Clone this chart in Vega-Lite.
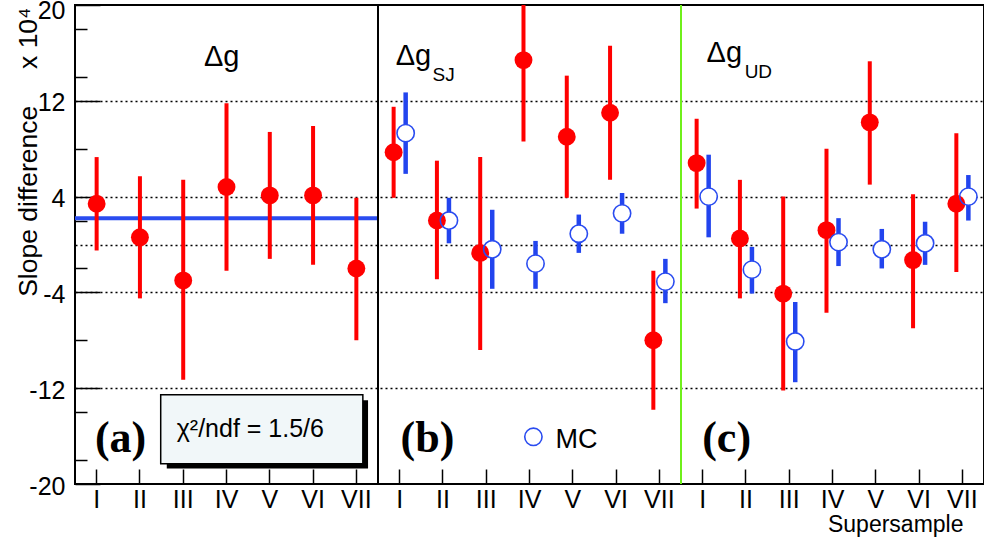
{
  "$schema": "https://vega.github.io/schema/vega-lite/v6.json",
  "width": 909,
  "height": 479,
  "autosize": {"type": "none"},
  "padding": {"left": 75, "top": 5, "right": 0, "bottom": 56},
  "background": "white",
  "config": {
    "view": {"stroke": "black", "strokeWidth": 2},
    "font": "Liberation Sans"
  },
  "datasets": {
    "points": [
      {"slot": 1, "panel": "a", "src": "Data", "val": 3.4, "lo": -0.5, "hi": 7.3},
      {"slot": 2, "panel": "a", "src": "Data", "val": 0.6, "lo": -4.5, "hi": 5.7},
      {"slot": 3, "panel": "a", "src": "Data", "val": -3.0, "lo": -11.3, "hi": 5.4},
      {"slot": 4, "panel": "a", "src": "Data", "val": 4.8, "lo": -2.2, "hi": 11.8},
      {"slot": 5, "panel": "a", "src": "Data", "val": 4.1, "lo": -1.2, "hi": 9.4},
      {"slot": 6, "panel": "a", "src": "Data", "val": 4.1, "lo": -1.7, "hi": 9.9},
      {"slot": 7, "panel": "a", "src": "Data", "val": -2.0, "lo": -8.0, "hi": 3.9},
      {"slot": 8, "panel": "b", "src": "Data", "val": 7.7, "lo": 3.9, "hi": 11.5},
      {"slot": 9, "panel": "b", "src": "Data", "val": 2.0, "lo": -2.9, "hi": 7.0},
      {"slot": 10, "panel": "b", "src": "Data", "val": -0.7, "lo": -8.8, "hi": 7.3},
      {"slot": 11, "panel": "b", "src": "Data", "val": 15.4, "lo": 8.6, "hi": 20},
      {"slot": 12, "panel": "b", "src": "Data", "val": 9.0, "lo": 3.9, "hi": 14.1},
      {"slot": 13, "panel": "b", "src": "Data", "val": 11.0, "lo": 5.4, "hi": 16.6},
      {"slot": 14, "panel": "b", "src": "Data", "val": -8.0, "lo": -13.8, "hi": -2.2},
      {"slot": 8, "panel": "b", "src": "MC", "val": 9.3, "lo": 5.9, "hi": 12.7},
      {"slot": 9, "panel": "b", "src": "MC", "val": 2.0, "lo": 0.1, "hi": 3.9},
      {"slot": 10, "panel": "b", "src": "MC", "val": -0.4, "lo": -3.7, "hi": 2.9},
      {"slot": 11, "panel": "b", "src": "MC", "val": -1.6, "lo": -3.7, "hi": 0.3},
      {"slot": 12, "panel": "b", "src": "MC", "val": 0.9, "lo": -0.7, "hi": 2.5},
      {"slot": 13, "panel": "b", "src": "MC", "val": 2.6, "lo": 0.9, "hi": 4.3},
      {"slot": 14, "panel": "b", "src": "MC", "val": -3.1, "lo": -4.9, "hi": -1.2},
      {"slot": 15, "panel": "c", "src": "Data", "val": 6.8, "lo": 3.0, "hi": 10.5},
      {"slot": 16, "panel": "c", "src": "Data", "val": 0.5, "lo": -4.5, "hi": 5.4},
      {"slot": 17, "panel": "c", "src": "Data", "val": -4.1, "lo": -12.2, "hi": 4.0},
      {"slot": 18, "panel": "c", "src": "Data", "val": 1.2, "lo": -5.7, "hi": 8.0},
      {"slot": 19, "panel": "c", "src": "Data", "val": 10.2, "lo": 5.0, "hi": 15.3},
      {"slot": 20, "panel": "c", "src": "Data", "val": -1.3, "lo": -7.0, "hi": 4.2},
      {"slot": 21, "panel": "c", "src": "Data", "val": 3.4, "lo": -2.3, "hi": 9.3},
      {"slot": 15, "panel": "c", "src": "MC", "val": 4.0, "lo": 0.6, "hi": 7.5},
      {"slot": 16, "panel": "c", "src": "MC", "val": -2.1, "lo": -4.1, "hi": -0.2},
      {"slot": 17, "panel": "c", "src": "MC", "val": -8.1, "lo": -11.5, "hi": -4.8},
      {"slot": 18, "panel": "c", "src": "MC", "val": 0.2, "lo": -1.8, "hi": 2.2},
      {"slot": 19, "panel": "c", "src": "MC", "val": -0.4, "lo": -2.0, "hi": 1.3},
      {"slot": 20, "panel": "c", "src": "MC", "val": 0.1, "lo": -1.7, "hi": 1.9},
      {"slot": 21, "panel": "c", "src": "MC", "val": 4.0, "lo": 2.0, "hi": 5.8}
    ],
    "fit": [{"u1": 0.5, "u2": 7.5, "v": 2.2}],
    "dividers": [
      {"u": 7.5, "v1": -20, "v2": 20, "kind": "black"},
      {"u": 14.5, "v1": -20, "v2": 20, "kind": "green"}
    ],
    "shadow": [{"u1": 2.62, "u2": 7.27, "v1": -13.0, "v2": -18.7}],
    "box": [{"u1": 2.48, "u2": 7.15, "v1": -12.55, "v2": -18.3}],
    "chi": [{"u": 2.85, "v": -16.09, "t": "χ²/ndf = 1.5/6"}],
    "titles": [
      {"u": 3.48, "v": 14.9, "t": "Δg"},
      {"u": 7.91, "v": 15.0, "t": "Δg"},
      {"u": 15.09, "v": 15.2, "t": "Δg"}
    ],
    "subs": [
      {"u": 8.76, "v": 13.66, "t": "SJ"},
      {"u": 15.97, "v": 13.88, "t": "UD"}
    ],
    "letters": [
      {"u": 0.96, "v": -17.3, "t": "(a)"},
      {"u": 8.02, "v": -17.3, "t": "(b)"},
      {"u": 14.99, "v": -17.3, "t": "(c)"}
    ],
    "legend": [{"u": 11.09, "v": -16.06, "tu": 11.6, "tv": -17.0, "t": "MC"}],
    "yref": [{"v": 0}]
  },
  "layer": [
    {
      "layer": [
        {
          "data": {"name": "yref"},
          "mark": {"type": "rule", "opacity": 0},
          "encoding": {
            "y": {
              "field": "v", "type": "quantitative",
              "scale": {"domain": [-20, 20], "nice": false, "zero": false},
              "axis": {
                "orient": "left",
                "values": [-18, -16, -14, -10, -8, -6, -2, 0, 2, 6, 8, 10, 14, 16, 18],
                "labels": false, "domain": false, "title": null, "grid": false,
                "tickSize": -12, "tickColor": "black", "tickWidth": 1.5
              }
            }
          }
        },
        {
          "data": {"name": "fit"},
          "mark": {"type": "rule", "color": "#2a4cf0", "strokeWidth": 4},
          "encoding": {
            "x": {"field": "u1", "type": "quantitative", "scale": {"domain": [0.5, 21.5], "nice": false, "zero": false}, "axis": null},
            "x2": {"field": "u2"},
            "y": {"field": "v", "type": "quantitative"}
          }
        },
        {
          "data": {"name": "dividers"},
          "mark": {"type": "rule", "strokeWidth": 2},
          "encoding": {
            "x": {"field": "u", "type": "quantitative", "axis": null},
            "y": {"field": "v1", "type": "quantitative"},
            "y2": {"field": "v2"},
            "color": {"field": "kind", "type": "nominal", "scale": {"domain": ["black", "green"], "range": ["#000000", "#6ff01a"]}, "legend": null}
          }
        },
        {
          "data": {"name": "shadow"},
          "mark": {"type": "rect", "fill": "black"},
          "encoding": {
            "x": {"field": "u1", "type": "quantitative", "axis": null},
            "x2": {"field": "u2"},
            "y": {"field": "v1", "type": "quantitative"},
            "y2": {"field": "v2"}
          }
        },
        {
          "data": {"name": "box"},
          "mark": {"type": "rect", "fill": "#f1f7f9", "stroke": "black", "strokeWidth": 1.5},
          "encoding": {
            "x": {"field": "u1", "type": "quantitative", "axis": null},
            "x2": {"field": "u2"},
            "y": {"field": "v1", "type": "quantitative"},
            "y2": {"field": "v2"}
          }
        },
        {
          "data": {"name": "chi"},
          "mark": {"type": "text", "align": "left", "baseline": "alphabetic", "fontSize": 25, "color": "black"},
          "encoding": {
            "x": {"field": "u", "type": "quantitative", "axis": null},
            "y": {"field": "v", "type": "quantitative"},
            "text": {"field": "t"}
          }
        },
        {
          "data": {"name": "titles"},
          "mark": {"type": "text", "align": "left", "baseline": "alphabetic", "fontSize": 29, "color": "black"},
          "encoding": {
            "x": {"field": "u", "type": "quantitative", "axis": null},
            "y": {"field": "v", "type": "quantitative"},
            "text": {"field": "t"}
          }
        },
        {
          "data": {"name": "subs"},
          "mark": {"type": "text", "align": "left", "baseline": "alphabetic", "fontSize": 19, "color": "black"},
          "encoding": {
            "x": {"field": "u", "type": "quantitative", "axis": null},
            "y": {"field": "v", "type": "quantitative"},
            "text": {"field": "t"}
          }
        },
        {
          "data": {"name": "letters"},
          "mark": {"type": "text", "align": "left", "baseline": "alphabetic", "fontSize": 44, "font": "Liberation Serif", "fontWeight": "bold", "color": "black"},
          "encoding": {
            "x": {"field": "u", "type": "quantitative", "axis": null},
            "y": {"field": "v", "type": "quantitative"},
            "text": {"field": "t"}
          }
        },
        {
          "data": {"name": "legend"},
          "mark": {"type": "point", "shape": "circle", "size": 300, "filled": false, "stroke": "#2a4cf0", "strokeWidth": 1.6, "opacity": 1},
          "encoding": {
            "x": {"field": "u", "type": "quantitative", "axis": null},
            "y": {"field": "v", "type": "quantitative"}
          }
        },
        {
          "data": {"name": "legend"},
          "mark": {"type": "text", "align": "left", "baseline": "alphabetic", "fontSize": 27, "color": "black"},
          "encoding": {
            "x": {"field": "tu", "type": "quantitative", "axis": null},
            "y": {"field": "tv", "type": "quantitative"},
            "text": {"field": "t"}
          }
        }
      ]
    },
    {
      "data": {"name": "points"},
      "layer": [
        {
          "transform": [{"filter": "datum.panel == 'a'"}],
          "mark": {"type": "rule", "color": "#ff0000", "strokeWidth": 4},
          "encoding": {
            "x": {
              "field": "slot", "type": "ordinal",
              "scale": {"type": "band", "domain": [1,2,3,4,5,6,7,8,9,10,11,12,13,14,15,16,17,18,19,20,21], "paddingInner": 0, "paddingOuter": 0},
              "axis": {
                "labelExpr": "['I','II','III','IV','V','VI','VII'][(datum.value - 1) % 7]",
                "labelAngle": 0, "labelFontSize": 25, "labelColor": "black", "labelPadding": 18,
                "labelBaseline": "top",
                "tickSize": -15, "tickColor": "black", "tickWidth": 1.5, "bandPosition": 0.5,
                "domain": false, "grid": false,
                "title": "Supersample", "titleFontSize": 23, "titleFontWeight": "normal", "titleColor": "black",
                "titleAnchor": "end", "titleAlign": "right", "titleX": 888, "titleY": 47, "titleBaseline": "alphabetic"
              }
            },
            "y": {
              "field": "lo", "type": "quantitative",
              "scale": {"domain": [-20, 20], "nice": false, "zero": false},
              "axis": {
                "orient": "left",
                "values": [-20, -12, -4, 0, 4, 12, 20],
                "labelExpr": "datum.value == 0 ? '' : (datum.value < 0 ? '-' + abs(datum.value) : '' + datum.value)",
                "labelFontSize": 25, "labelColor": "black", "labelPadding": 35,
                "labelOffset": {"condition": {"test": "datum.value == 20", "value": 5}, "value": 2},
                "tickSize": -25, "tickColor": "black", "tickWidth": 1.5,
                "tickOpacity": {"condition": {"test": "datum.value == 0", "value": 0}, "value": 1},
                "domain": false,
                "grid": true, "gridColor": "black", "gridDash": [2, 3], "gridWidth": 1.3,
                "gridOpacity": {"condition": {"test": "abs(datum.value) == 20", "value": 0}, "value": 1},
                "title": "Slope difference\u00a0\u00a0\u00a0\u00a0\u00a0x 10⁴",
                "titleFontSize": 26.5, "titleFontWeight": "normal", "titleColor": "black",
                "titleAnchor": "end", "titleAlign": "right", "titleAngle": 270, "titleX": -47, "titleY": 2, "titleBaseline": "middle"
              }
            },
            "y2": {"field": "hi"}
          }
        },
        {
          "transform": [{"filter": "datum.panel != 'a' && datum.src == 'Data'"}],
          "mark": {"type": "rule", "color": "#ff0000", "strokeWidth": 4},
          "encoding": {
            "x": {"field": "slot", "type": "ordinal"},
            "xOffset": {"field": "src", "type": "nominal", "scale": {"domain": ["Data", "MC"], "paddingInner": 0, "paddingOuter": 0.8}},
            "y": {"field": "lo", "type": "quantitative"},
            "y2": {"field": "hi"}
          }
        },
        {
          "transform": [{"filter": "datum.src == 'MC'"}],
          "mark": {"type": "rule", "color": "#2244ee", "strokeWidth": 4.5},
          "encoding": {
            "x": {"field": "slot", "type": "ordinal"},
            "xOffset": {"field": "src", "type": "nominal"},
            "y": {"field": "lo", "type": "quantitative"},
            "y2": {"field": "hi"}
          }
        },
        {
          "transform": [{"filter": "datum.src == 'MC'"}],
          "mark": {"type": "point", "shape": "circle", "size": 300, "filled": true, "fill": "white", "strokeWidth": 0, "opacity": 1},
          "encoding": {
            "x": {"field": "slot", "type": "ordinal"},
            "xOffset": {"field": "src", "type": "nominal"},
            "y": {"field": "val", "type": "quantitative"}
          }
        },
        {
          "transform": [{"filter": "datum.panel == 'a'"}],
          "mark": {"type": "point", "shape": "circle", "size": 320, "filled": true, "color": "#ff0000", "opacity": 1},
          "encoding": {
            "x": {"field": "slot", "type": "ordinal"},
            "y": {"field": "val", "type": "quantitative"}
          }
        },
        {
          "transform": [{"filter": "datum.panel != 'a' && datum.src == 'Data'"}],
          "mark": {"type": "point", "shape": "circle", "size": 320, "filled": true, "color": "#ff0000", "opacity": 1},
          "encoding": {
            "x": {"field": "slot", "type": "ordinal"},
            "xOffset": {"field": "src", "type": "nominal"},
            "y": {"field": "val", "type": "quantitative"}
          }
        },
        {
          "transform": [{"filter": "datum.src == 'MC'"}],
          "mark": {"type": "point", "shape": "circle", "size": 300, "filled": false, "stroke": "#2a4cf0", "strokeWidth": 1.6, "opacity": 1},
          "encoding": {
            "x": {"field": "slot", "type": "ordinal"},
            "xOffset": {"field": "src", "type": "nominal"},
            "y": {"field": "val", "type": "quantitative"}
          }
        }
      ]
    }
  ],
  "resolve": {"scale": {"x": "independent"}, "axis": {"y": "independent"}}
}
